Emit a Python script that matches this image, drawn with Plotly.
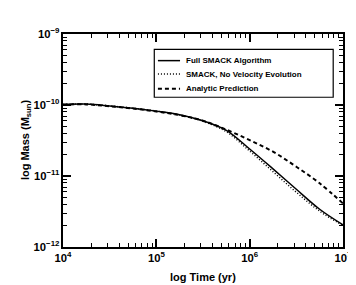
import plotly.graph_objects as go

log_time = [4.0, 4.25, 4.5, 4.75, 5.0, 5.25, 5.5, 5.75, 6.0, 6.25, 6.5, 6.75, 7.0]
time_yr = [10 ** v for v in log_time]

full_smack = [1.02e-10, 1.03e-10, 9.7e-11, 9.0e-11, 8.2e-11, 7.3e-11, 6.0e-11, 4.4e-11,
              2.4e-11, 1.26e-11, 6.5e-12, 3.4e-12, 2.05e-12]
no_vel_evol = [1.02e-10, 1.03e-10, 9.7e-11, 9.0e-11, 8.2e-11, 7.2e-11, 5.9e-11, 4.2e-11,
               2.25e-11, 1.15e-11, 5.9e-12, 3.2e-12, 2.0e-12]
analytic = [1.01e-10, 1.02e-10, 9.6e-11, 8.9e-11, 8.1e-11, 7.2e-11, 6.0e-11, 4.5e-11,
            3.2e-11, 2.2e-11, 1.35e-11, 7.9e-12, 4.1e-12]

names = ["Full SMACK Algorithm", "SMACK, No Velocity Evolution", "Analytic Prediction"]
series = [full_smack, no_vel_evol, analytic]
dashes = ["solid", "1px,2px", "4px,3px"]
widths = [1.5, 1.5, 2]

x_title = "log Time (yr)"
y_title = "log Mass (M<sub>sun</sub>)"

FONT = "Liberation Sans, Arial, sans-serif"

fig = go.Figure()
for name, vals, dash, w in zip(names, series, dashes, widths):
    fig.add_trace(go.Scatter(x=time_yr, y=vals, mode="lines", name=name, showlegend=False,
                             line=dict(color="black", width=w, dash=dash, shape="spline")))

axis_common = dict(
    showline=True, linecolor="black", linewidth=1.5, mirror="ticks",
    ticks="inside", ticklen=8, tickwidth=1.5, tickcolor="black",
    showgrid=False, zeroline=False, dtick=1, exponentformat="power",
    automargin=False,
    tickfont=dict(family=FONT, size=9, color="black", weight="bold"),
    minor=dict(ticks="inside", ticklen=4, tickwidth=1, tickcolor="black", dtick="D1", showgrid=False),
)

fig.update_xaxes(type="log", range=[4, 7], tick0=0, **axis_common)
fig.update_yaxes(type="log", range=[-12, -9], tick0=0, **axis_common)

title_font = dict(family=FONT, size=11, color="black", weight="bold")

# legend box (drawn manually to match the compact original legend)
shapes = [dict(type="rect", xref="paper", yref="paper", x0=0.326, x1=0.965, y0=0.703, y1=0.928,
               line=dict(color="black", width=1.2), fillcolor="white", layer="above")]
annotations = [
    dict(text=x_title, xref="paper", yref="paper", x=0.5, y=-0.141, xanchor="center", yanchor="middle",
         showarrow=False, font=title_font),
    dict(text=y_title, xref="paper", yref="paper", x=-0.132, y=0.502, xanchor="center", yanchor="middle",
         textangle=-90, showarrow=False, font=title_font),
]
row_y = [0.875, 0.812, 0.743]
for name, dash, w, ry in zip(names, dashes, widths, row_y):
    shapes.append(dict(type="line", xref="paper", yref="paper", x0=0.339, x1=0.418, y0=ry, y1=ry,
                       line=dict(color="black", width=w, dash=dash), layer="above"))
    annotations.append(dict(text=name, xref="paper", yref="paper", x=0.432, y=ry,
                            xanchor="left", yanchor="middle", showarrow=False,
                            font=dict(family=FONT, size=8, color="black", weight="bold")))

fig.update_layout(
    width=348, height=277,
    margin=dict(l=55, r=13, t=26, b=38),
    paper_bgcolor="white", plot_bgcolor="white",
    showlegend=False,
    shapes=shapes, annotations=annotations,
)

fig.write_html("out.html")
